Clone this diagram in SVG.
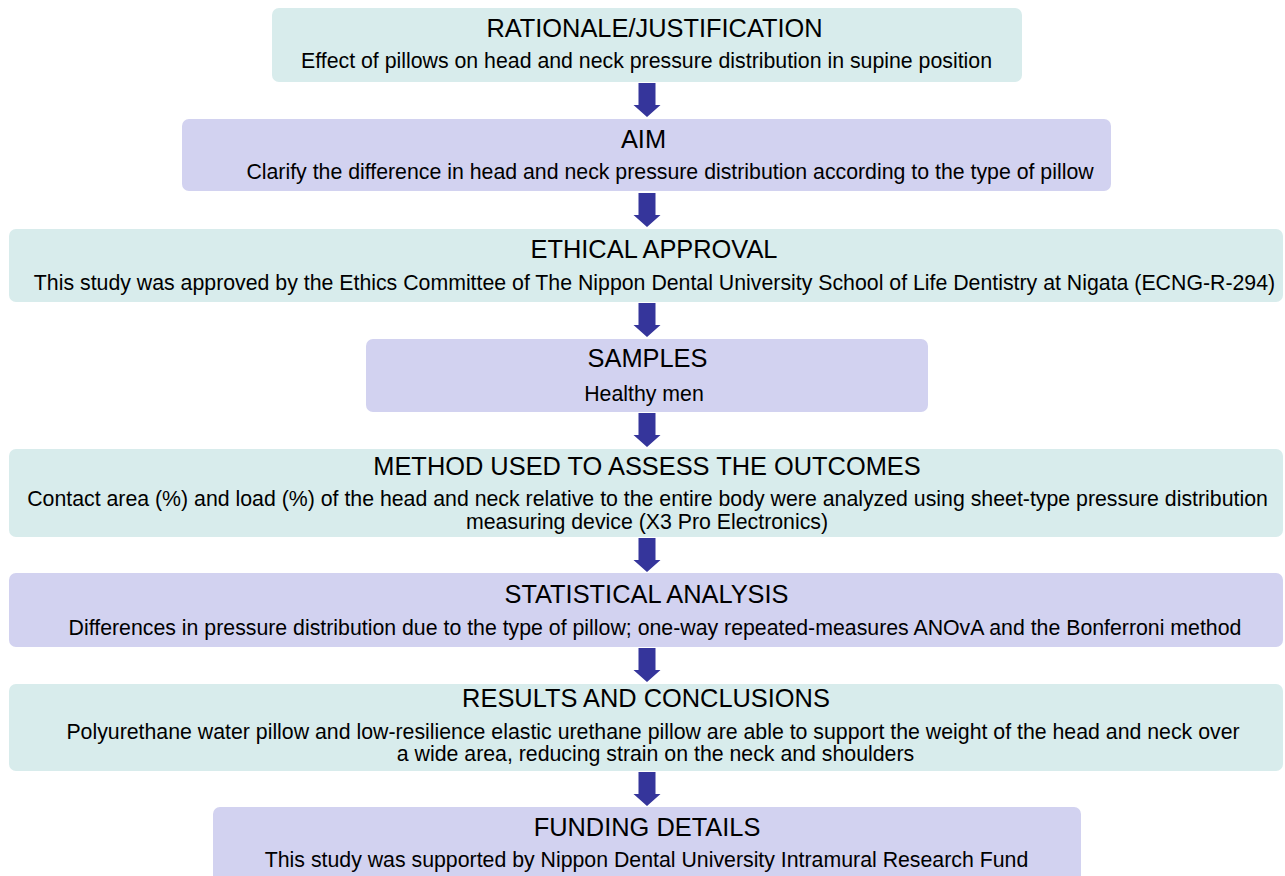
<svg xmlns="http://www.w3.org/2000/svg" xmlns:xlink="http://www.w3.org/1999/xlink" width="1285" height="876" viewBox="0 0 1285 876">
<style>
.teal{fill:#d8ecec;}
.lav{fill:#d2d2f0;}
text{font-family:"Liberation Sans",Arial,sans-serif;fill:#000;text-anchor:middle;}
.t{font-size:25.4px;}
.b{font-size:21.3px;}
.arr{fill:#35359b;}
</style>
<defs>
<path id="arrow" d="M -8.5 0 H 8.5 V 22 H 13.5 L 0 34 L -13.5 22 H -8.5 Z"/>
</defs>
<rect width="1285" height="876" fill="#ffffff"/>
<g id="connectors" class="arr">
<use xlink:href="#arrow" href="#arrow" x="647" y="83"/>
<use xlink:href="#arrow" href="#arrow" x="647" y="193"/>
<use xlink:href="#arrow" href="#arrow" x="647" y="303"/>
<use xlink:href="#arrow" href="#arrow" x="647" y="413"/>
<use xlink:href="#arrow" href="#arrow" x="647" y="538"/>
<use xlink:href="#arrow" href="#arrow" x="647" y="648"/>
<use xlink:href="#arrow" href="#arrow" x="647" y="772"/>
</g>
<g id="rationale">
<rect class="teal" x="272" y="8" width="750" height="74" rx="7"/>
<text class="t" x="654.5" y="37">RATIONALE/JUSTIFICATION</text>
<text class="b" x="646.5" y="68">Effect of pillows on head and neck pressure distribution in supine position</text>
</g>
<g id="aim">
<rect class="lav" x="182" y="119" width="929" height="72" rx="7"/>
<text class="t" x="643.5" y="148">AIM</text>
<text class="b" x="670" y="179">Clarify the difference in head and neck pressure distribution according to the type of pillow</text>
</g>
<g id="ethical">
<rect class="teal" x="9" y="229" width="1274" height="73" rx="7"/>
<text class="t" x="654" y="258">ETHICAL APPROVAL</text>
<text class="b" x="654.5" y="290">This study was approved by the Ethics Committee of The Nippon Dental University School of Life Dentistry at Nigata (ECNG-R-294)</text>
</g>
<g id="samples">
<rect class="lav" x="366" y="339" width="562" height="73" rx="7"/>
<text class="t" x="647.5" y="367">SAMPLES</text>
<text class="b" x="644" y="401">Healthy men</text>
</g>
<g id="method">
<rect class="teal" x="9" y="449" width="1274" height="88" rx="7"/>
<text class="t" x="647" y="475">METHOD USED TO ASSESS THE OUTCOMES</text>
<text class="b" x="647.5" y="506">Contact area (%) and load (%) of the head and neck relative to the entire body were analyzed using sheet-type pressure distribution</text>
<text class="b" x="647" y="529">measuring device (X3 Pro Electronics)</text>
</g>
<g id="statistical">
<rect class="lav" x="9" y="573" width="1274" height="74" rx="7"/>
<text class="t" x="646.5" y="603">STATISTICAL ANALYSIS</text>
<text class="b" x="655" y="635">Differences in pressure distribution due to the type of pillow; one-way repeated-measures ANOvA and the Bonferroni method</text>
</g>
<g id="results">
<rect class="teal" x="9" y="684" width="1274" height="87" rx="7"/>
<text class="t" x="646" y="707">RESULTS AND CONCLUSIONS</text>
<text class="b" x="653" y="739">Polyurethane water pillow and low-resilience elastic urethane pillow are able to support the weight of the head and neck over</text>
<text class="b" x="655.5" y="761">a wide area, reducing strain on the neck and shoulders</text>
</g>
<g id="funding">
<rect class="lav" x="213" y="807" width="868" height="80" rx="7"/>
<text class="t" x="647" y="836">FUNDING DETAILS</text>
<text class="b" x="646.5" y="867">This study was supported by Nippon Dental University Intramural Research Fund</text>
</g>
</svg>
